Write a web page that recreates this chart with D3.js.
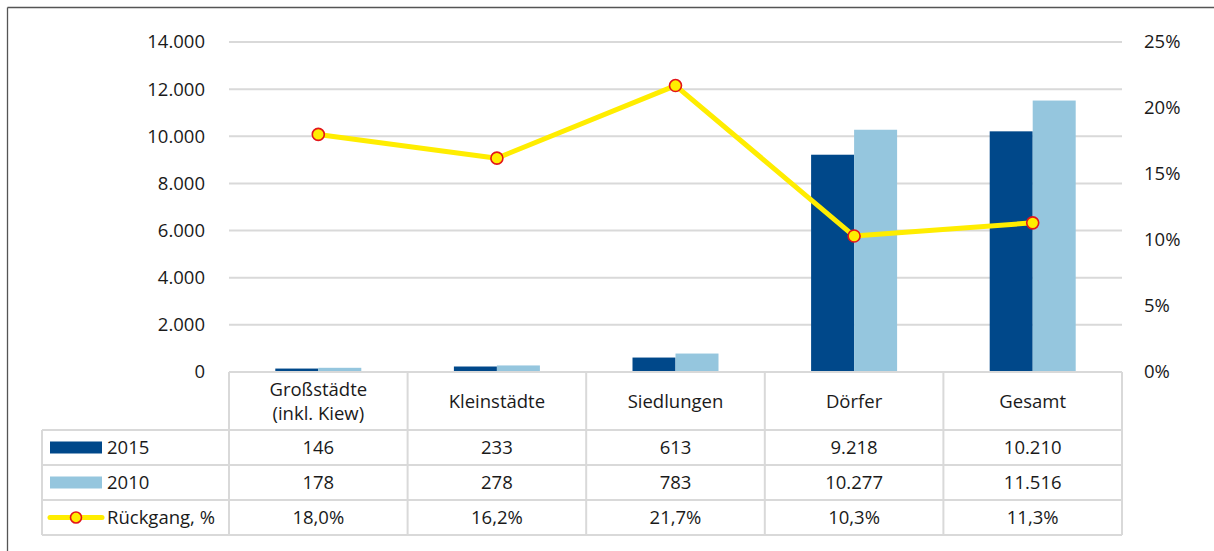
<!DOCTYPE html>
<html>
<head>
<meta charset="utf-8">
<script src="https://cdn.jsdelivr.net/npm/d3@7"></script>
<style>
body { margin: 0; background: #fff; }
text { font-family: "Open Sans", "Noto Sans", sans-serif; fill: #1a1a1a; }
</style>
</head>
<body>
<div id="chart"></div>
<script>
var categories = ["Großstädte\n(inkl. Kiew)", "Kleinstädte", "Siedlungen", "Dörfer", "Gesamt"];
var values2015 = [146, 233, 613, 9218, 10210];
var values2010 = [178, 278, 783, 10277, 11516];
var decline = [18.0, 16.2, 21.7, 10.3, 11.3];
var leftTicks = [0, 2000, 4000, 6000, 8000, 10000, 12000, 14000];
var rightTicks = [0, 5, 10, 15, 20, 25];

var svgWidth = 1214;
var svgHeight = 551;

var dark = "#00488a";
var light = "#95c6de";
var grid = "#d9d9d9";
var fs = 18.5;

var plotLeft = 229, plotRight = 1122, plotTop = 42, plotBottom = 372;

var svg = d3.select("#chart")
    .append("svg")
    .attr("width", svgWidth)
    .attr("height", svgHeight);

// frame (only top and left visible)
svg.append("line").attr("x1", 7.5).attr("x2", svgWidth).attr("y1", 7.5).attr("y2", 7.5)
    .attr("stroke", "#555").attr("stroke-width", 1.3);
svg.append("line").attr("x1", 7.5).attr("x2", 7.5).attr("y1", 7.5).attr("y2", svgHeight)
    .attr("stroke", "#555").attr("stroke-width", 1.3);

var x = d3.scaleBand()
    .domain(d3.range(categories.length))
    .range([plotLeft, plotRight])
    .paddingInner(0)
    .paddingOuter(0);

var yLeft = d3.scaleLinear().domain([0, 14000]).range([plotBottom, plotTop]);
var yRight = d3.scaleLinear().domain([0, 25]).range([plotBottom, plotTop]);

var fmt = function(v) { return d3.format(",")(v).replace(/,/g, "."); };

// gridlines
svg.append("g")
    .selectAll("line")
    .data(leftTicks.slice(1))
    .enter()
    .append("line")
    .attr("x1", plotLeft)
    .attr("x2", plotRight)
    .attr("y1", d => yLeft(d))
    .attr("y2", d => yLeft(d))
    .attr("stroke", grid)
    .attr("stroke-width", 2);

// left axis
var leftAxis = d3.axisLeft(yLeft).tickValues(leftTicks).tickFormat(fmt).tickSize(0).tickPadding(0);
var gL = svg.append("g").attr("transform", "translate(205,0)").call(leftAxis);
gL.select(".domain").remove();
gL.selectAll("text").attr("font-size", fs).style("font-family", "Open Sans, sans-serif").attr("fill", "#1a1a1a");

// right axis
var rightAxis = d3.axisRight(yRight).tickValues(rightTicks).tickFormat(d => d + "%").tickSize(0).tickPadding(0);
var gR = svg.append("g").attr("transform", "translate(1144,0)").call(rightAxis);
gR.select(".domain").remove();
gR.selectAll("text").attr("font-size", fs).style("font-family", "Open Sans, sans-serif").attr("fill", "#1a1a1a");

// bars
var barW = 43;
var bars = svg.append("g");
bars.selectAll(".b2015")
    .data(values2015)
    .enter()
    .append("rect")
    .attr("x", (d, i) => x(i) + x.bandwidth() / 2 - barW)
    .attr("y", d => yLeft(d))
    .attr("width", barW)
    .attr("height", d => plotBottom - yLeft(d))
    .attr("fill", dark);
bars.selectAll(".b2010")
    .data(values2010)
    .enter()
    .append("rect")
    .attr("x", (d, i) => x(i) + x.bandwidth() / 2)
    .attr("y", d => yLeft(d))
    .attr("width", barW)
    .attr("height", d => plotBottom - yLeft(d))
    .attr("fill", light);

// line
var line = d3.line()
    .x((d, i) => x(i) + x.bandwidth() / 2)
    .y(d => yRight(d));

svg.append("path")
    .datum(decline)
    .attr("d", line)
    .attr("fill", "none")
    .attr("stroke", "#ffed00")
    .attr("stroke-width", 5)
    .attr("stroke-linejoin", "round");

svg.append("g")
    .selectAll("circle")
    .data(decline)
    .enter()
    .append("circle")
    .attr("cx", (d, i) => x(i) + x.bandwidth() / 2)
    .attr("cy", d => yRight(d))
    .attr("r", 6)
    .attr("fill", "#ffed00")
    .attr("stroke", "#e3151a")
    .attr("stroke-width", 1.6);

// data table
var tableLeft = 42;
var rowEdges = [372, 430, 465, 500, 535];
var tbl = svg.append("g");
var lineStyle = function(sel) { return sel.attr("stroke", grid).attr("stroke-width", 2); };

// horizontal lines
lineStyle(tbl.append("line").attr("x1", plotLeft).attr("x2", plotRight).attr("y1", rowEdges[0]).attr("y2", rowEdges[0]));
rowEdges.slice(1).forEach(function(y) {
    lineStyle(tbl.append("line").attr("x1", tableLeft).attr("x2", plotRight).attr("y1", y).attr("y2", y));
});
// vertical lines
lineStyle(tbl.append("line").attr("x1", tableLeft).attr("x2", tableLeft).attr("y1", rowEdges[1]).attr("y2", rowEdges[4]));
d3.range(categories.length + 1).forEach(function(i) {
    var xx = i < categories.length ? x(i) : plotRight;
    lineStyle(tbl.append("line").attr("x1", xx).attr("x2", xx).attr("y1", rowEdges[0]).attr("y2", rowEdges[4]));
});

// category header
tbl.selectAll(".cat")
    .data(categories)
    .enter()
    .append("text")
    .attr("text-anchor", "middle")
    .attr("font-size", fs)
    .each(function(d, i) {
        var parts = d.split("\n");
        var t = d3.select(this);
        var cy = (rowEdges[0] + rowEdges[1]) / 2;
        parts.forEach(function(p, j) {
            t.append("tspan")
                .attr("x", x(i) + x.bandwidth() / 2)
                .attr("y", cy + 6.5 + (j - (parts.length - 1) / 2) * 24)
                .text(p);
        });
    });

// rows
var rows = [
    { label: "2015", vals: values2015.map(fmt), type: "rect", color: dark },
    { label: "2010", vals: values2010.map(fmt), type: "rect", color: light },
    { label: "Rückgang, %", vals: decline.map(d => d.toFixed(1).replace(".", ",") + "%"), type: "line" }
];

rows.forEach(function(r, k) {
    var cy = (rowEdges[k + 1] + rowEdges[k + 2]) / 2;
    if (r.type === "rect") {
        tbl.append("rect").attr("x", 50).attr("y", cy - 6).attr("width", 52).attr("height", 12).attr("fill", r.color);
    } else {
        tbl.append("line").attr("x1", 50).attr("x2", 102).attr("y1", cy).attr("y2", cy)
            .attr("stroke", "#ffed00").attr("stroke-width", 5).attr("stroke-linecap", "round");
        tbl.append("circle").attr("cx", 76).attr("cy", cy).attr("r", 5.5)
            .attr("fill", "#ffed00").attr("stroke", "#e3151a").attr("stroke-width", 1.6);
    }
    tbl.append("text").attr("x", 107).attr("y", cy + 6.5).attr("font-size", fs).text(r.label);
    tbl.selectAll(".v" + k)
        .data(r.vals)
        .enter()
        .append("text")
        .attr("x", (d, i) => x(i) + x.bandwidth() / 2)
        .attr("y", cy + 6.5)
        .attr("text-anchor", "middle")
        .attr("font-size", fs)
        .text(d => d);
});
</script>
</body>
</html>
